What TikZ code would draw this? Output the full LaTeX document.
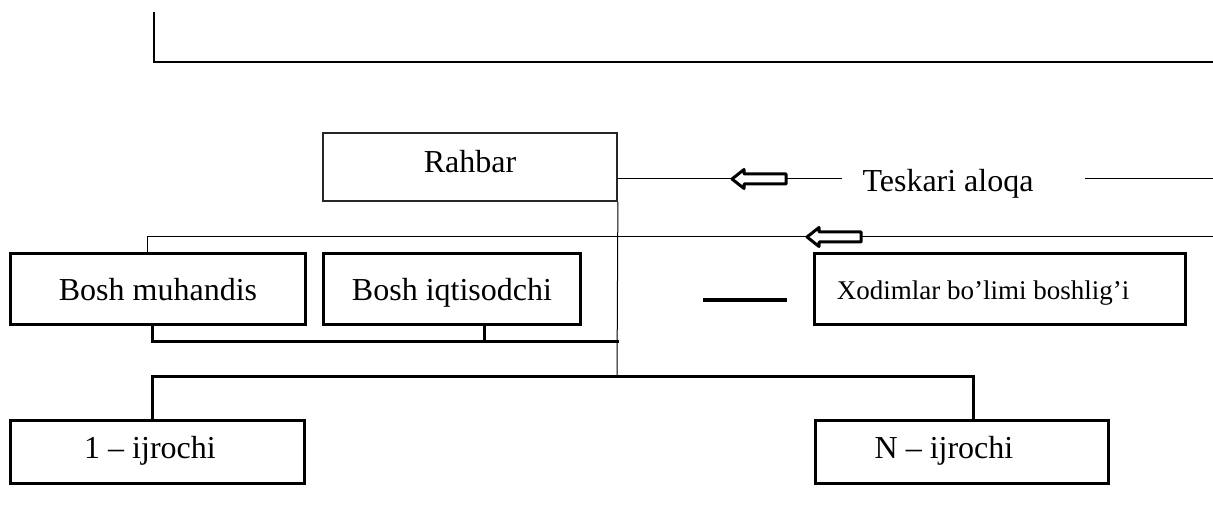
\documentclass[tikz,border=0pt]{standalone}
\usepackage{fontspec}
\setmainfont{Liberation Serif}
\begin{document}
\begin{tikzpicture}[x=1pt,y=-1pt,
  box/.style={draw=black, line width=3pt, rectangle, inner sep=0pt},
  thinbox/.style={draw=black!85, line width=1.8pt, rectangle, inner sep=0pt},
  lbl/.style={font=\fontsize{32}{36}\selectfont, inner sep=0pt, anchor=base},
  slbl/.style={font=\fontsize{27}{32}\selectfont, inner sep=0pt, anchor=base},
  thinline/.style={draw=black, line width=1pt},
  midline/.style={draw=black, line width=2pt},
  thickline/.style={draw=black, line width=3pt},
  hollowarrow/.style={draw=black, line width=3pt, fill=white, line join=round}
]
\useasboundingbox (0,0) rectangle (1213,526);

% top L-shaped line
\coordinate (tl1) at (154,12);
\coordinate (tl2) at (154,62);
\coordinate (tl3) at (1213,62);
\draw[midline] (tl1) -- (tl2) -- (tl3);

% boxes
\node[thinbox, minimum width=294pt, minimum height=68pt] (rahbar) at (470,167) {};
\node[lbl] (rahbart) at (470,173) {Rahbar};

\node[box, minimum width=295pt, minimum height=71pt] (bm) at (157.5,289.5) {};
\node[lbl] (bmt) at (158,301) {Bosh muhandis};

\node[box, minimum width=257pt, minimum height=71pt] (bi) at (451.5,289.5) {};
\node[lbl] (bit) at (452,301) {Bosh iqtisodchi};

\node[box, minimum width=371pt, minimum height=71pt] (xb) at (999.5,289.5) {};
\node[slbl] (xbt) at (983,300) {Xodimlar bo’limi boshlig’i};

\node[box, minimum width=294pt, minimum height=62pt] (i1) at (157,452) {};
\node[lbl] (i1t) at (150,458) {1 – ijrochi};

\node[box, minimum width=293pt, minimum height=62pt] (iN) at (961.5,452) {};
\node[lbl] (iNt) at (944,458) {N – ijrochi};

% feedback line 1
\coordinate (f1a) at (617,179);
\coordinate (f1b) at (842,179);
\coordinate (f1c) at (1085,179);
\coordinate (f1d) at (1213,179);
\draw[thinline] (f1a) -- (f1b);
\draw[thinline] (f1c) -- (f1d);
\node[lbl] (tesk) at (948,192) {Teskari aloqa};

% feedback line 2
\coordinate (f2a) at (147,237);
\coordinate (f2d) at (1213,237);
\draw[thinline] (bm.north -| f2a) -- (f2a) -- (f2d);

% hollow arrows
\coordinate (ar1) at (732,179);
\coordinate (ar2) at (807,237);
\foreach \c in {ar1,ar2}{
  \draw[hollowarrow] (\c) -- ++(12,-9.5) -- ++(0,4.5) -- ++(42,0) -- ++(0,10) -- ++(-42,0) -- ++(0,4.5) -- cycle;
}

% vertical from Rahbar
\coordinate (bus) at (617,377);
\draw[thinline] (rahbar.south east) -- (bus);

% bosh connector
\coordinate (bj) at (619,342);
\draw[thickline] ([xshift=-5.5pt]bm.south) -- ([xshift=-5.5pt]bm.south |- bj) -- (bj);
\draw[thickline] ([xshift=32.5pt]bi.south) -- ([xshift=32.5pt]bi.south |- bj);

% bus to executors
\coordinate (busL) at (152,377);
\coordinate (busR) at (973,377);
\draw[thickline] (busL |- i1.north) -- (busL) -- (busR) -- (busR |- iN.north);

% short thick line
\coordinate (s1) at (703,300);
\coordinate (s2) at (787,300);
\draw[line width=3.5pt] (s1) -- (s2);
\end{tikzpicture}
\end{document}
